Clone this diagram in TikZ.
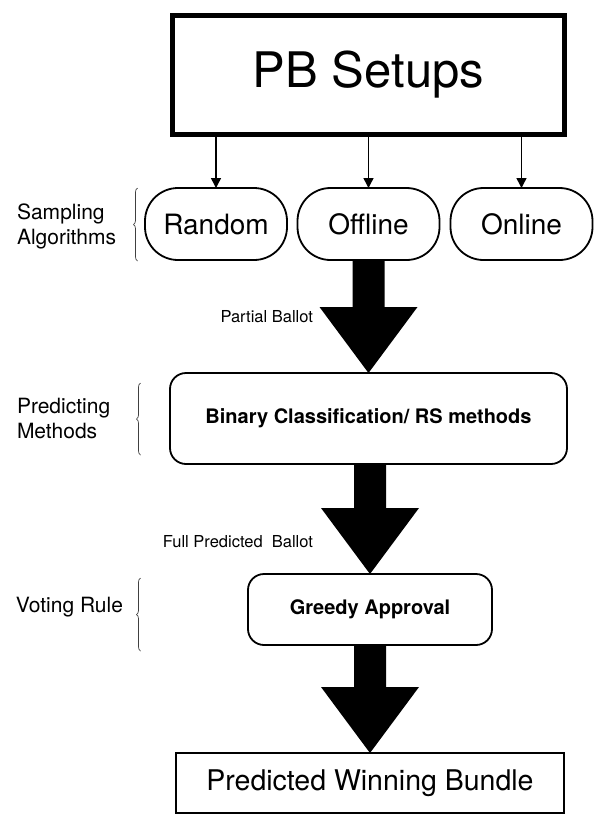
\documentclass[tikz,border=0pt]{standalone}
\usepackage{fontspec}
\setmainfont{TeX Gyre Heros}
\usetikzlibrary{arrows.meta,calc,decorations.pathreplacing}
\tikzset{
  pbbox/.style={draw, line width=5pt, minimum width=392pt, minimum height=119pt, inner sep=0pt, outer sep=0pt, font=\fontsize{49}{58}\selectfont},
  pill/.style={draw, line width=1.8pt, rounded corners=33pt, minimum width=142pt, minimum height=72pt, inner sep=0pt, outer sep=0pt, font=\fontsize{28}{33}\selectfont},
  roundbox/.style={draw, line width=1.8pt, rounded corners=16pt, inner sep=0pt, outer sep=0pt, font=\bfseries\fontsize{20}{24}\selectfont},
  plainbox/.style={draw, line width=1.8pt, inner sep=0pt, outer sep=0pt, font=\fontsize{28.5}{33}\selectfont},
  sidelabel/.style={inner sep=0pt, outer sep=0pt, align=left, font=\fontsize{21}{25}\selectfont},
  flowlabel/.style={inner sep=0pt, outer sep=0pt, font=\fontsize{16.5}{20}\selectfont},
  thinarrow/.style={line width=1.5pt, -{Triangle[length=10pt,width=10pt]}},
  sidebrace/.style={decorate, decoration={brace, amplitude=4pt}, line width=0.7pt, draw=black!75}
}
\newcommand\bigflow[2]{%
  \fill ($(#2.north |- #1.south)+(-16,0)$) -- ($(#2.north)+(-16,-66)$) -- ($(#2.north)+(-49,-66)$) -- (#2.north)
    -- ($(#2.north)+(49,-66)$) -- ($(#2.north)+(16,-66)$) -- ($(#2.north |- #1.south)+(16,0)$) -- cycle;}
\begin{document}
\begin{tikzpicture}[x=1pt,y=-1pt]
\useasboundingbox (0,0) rectangle (605,825);

\node[pbbox] (pb) at (368.5,75) {PB Setups};

\node[pill] (rnd) at (216,224) {Random};
\node[pill] (off) at (368.5,224) {Offline};
\node[pill] (onl) at (521.5,224) {Online};

\draw[thinarrow] (pb.south -| rnd.north) -- (rnd.north);
\draw[thinarrow] (pb.south -| off.north) -- (off.north);
\draw[thinarrow] (pb.south -| onl.north) -- (onl.north);

\node[roundbox, minimum width=397pt, minimum height=91pt] (pred) at (368.5,418.5) {Binary Classification/ RS methods};
\node[roundbox, minimum width=244pt, minimum height=71pt] (greedy) at (370,609.5) {Greedy Approval};
\node[plainbox, minimum width=388pt, minimum height=60pt] (bundle) at (370,783) {Predicted Winning Bundle};

\bigflow{off}{pred}
\bigflow{pred}{greedy}
\bigflow{greedy}{bundle}

\node[flowlabel, anchor=base east] (pbal) at (313,322) {Partial Ballot};
\node[flowlabel, anchor=base east] (fbal) at (313,547) {Full Predicted\ \ Ballot};

\node[sidelabel, anchor=west] (samp) at (17,226.5) {Sampling\\Algorithms};
\node[sidelabel, anchor=west] (predm) at (17,418) {Predicting\\Methods};
\node[sidelabel, anchor=base west] (vote) at (16,612) {Voting Rule};

\coordinate (b1s) at (137.5,261);
\coordinate (b1e) at (137.5,188);
\coordinate (b2s) at (140.5,455);
\coordinate (b2e) at (140.5,383);
\coordinate (b3s) at (140.5,651);
\coordinate (b3e) at (140.5,578);
\draw[sidebrace] (b1s) -- (b1e);
\draw[sidebrace] (b2s) -- (b2e);
\draw[sidebrace] (b3s) -- (b3e);
\end{tikzpicture}
\end{document}
